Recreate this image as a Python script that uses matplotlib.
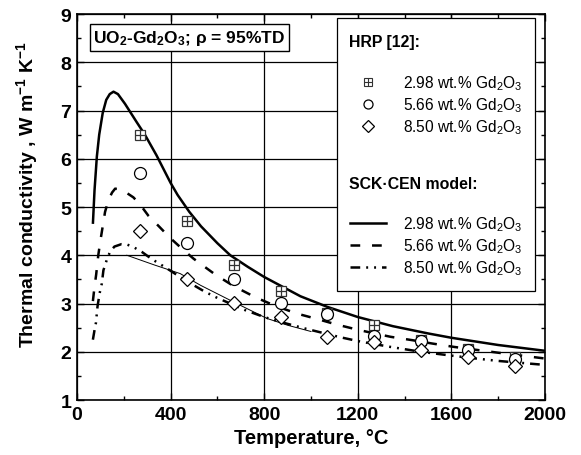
import matplotlib
matplotlib.use("Agg")
import matplotlib.pyplot as plt
from matplotlib.lines import Line2D
from matplotlib.patches import Rectangle
from matplotlib.ticker import MultipleLocator

plt.rcParams['font.family'] = ['Liberation Sans', 'DejaVu Sans']
plt.rcParams['mathtext.fontset'] = 'custom'
plt.rcParams['mathtext.rm'] = 'Liberation Sans'
plt.rcParams['mathtext.bf'] = 'Liberation Sans:bold'
plt.rcParams['mathtext.default'] = 'regular'
plt.rcParams['lines.scale_dashes'] = False

# HRP [12] measurements
temp_hrp = [270, 470, 670, 870, 1070, 1270, 1470, 1670, 1870]
k_hrp_298 = [6.5, 4.7, 3.8, 3.26, 2.8, 2.55, 2.25, 2.05, 1.9]
k_hrp_566 = [5.7, 4.26, 3.51, 3.01, 2.78, 2.32, 2.22, 2.03, 1.85]
k_hrp_850 = [4.5, 3.5, 3.02, 2.72, 2.31, 2.21, 2.03, 1.9, 1.71]

temp_m298 = [68, 75, 85, 95, 110, 125, 140, 156, 175, 205, 255, 290, 340, 400,
             430, 480, 530, 600, 655, 730, 800, 955, 1070, 1200, 1350, 1500,
             1600, 1800, 2000]
k_m298 = [4.65, 5.35, 6.05, 6.5, 6.95, 7.22, 7.34, 7.39, 7.34, 7.14, 6.76, 6.5,
          6.07, 5.5, 5.25, 4.9, 4.6, 4.25, 4.0, 3.76, 3.55, 3.15, 2.93, 2.72,
          2.53, 2.38, 2.29, 2.14, 2.02]

temp_m566 = [68, 75, 82, 91, 100, 110, 120, 135, 150, 163, 180, 210, 241, 270,
             305, 350, 398, 450, 498, 540, 591, 670, 762, 848, 941, 1033, 1105,
             1205, 1340, 1433, 1519, 1612, 1800, 2000]
k_m566 = [3.05, 3.35, 3.6, 4.0, 4.3, 4.6, 4.9, 5.15, 5.3, 5.38, 5.37, 5.3, 5.2,
          5.05, 4.82, 4.6, 4.36, 4.13, 3.93, 3.78, 3.6, 3.36, 3.13, 2.95, 2.79,
          2.67, 2.57, 2.45, 2.31, 2.24, 2.17, 2.1, 1.98, 1.86]

temp_m850 = [68, 75, 81, 88, 98, 106, 113, 127, 141, 160, 190, 215, 241, 277,
             320, 377, 412, 470, 548, 598, 720, 800, 891, 976, 1126, 1212, 1340,
             1469, 1600, 1705, 1800, 1969, 2000]
k_m850 = [2.25, 2.45, 2.6, 2.95, 3.24, 3.41, 3.69, 3.9, 4.07, 4.18, 4.23, 4.22,
          4.17, 4.07, 3.92, 3.75, 3.64, 3.46, 3.24, 3.12, 2.86, 2.72, 2.59, 2.48,
          2.3, 2.21, 2.1, 2.0, 1.92, 1.86, 1.81, 1.74, 1.73]

# thin fit line through the 8.50 wt.% data
temp_fit = [213, 330, 441, 527, 670, 812, 900, 1000]
k_fit = [4.0, 3.8, 3.62, 3.38, 3.03, 2.69, 2.55, 2.42]

labels = ["2.98 wt.% Gd$_2$O$_3$", "5.66 wt.% Gd$_2$O$_3$", "8.50 wt.% Gd$_2$O$_3$"]

DASHED = (0, (7.0, 8.5))
DASHDOT = (0, (7.0, 4.3, 1.4, 4.3, 1.4, 4.3))


def plot_conductivity():
    fig = plt.figure(figsize=(5.81, 4.56), dpi=100)
    ax = fig.add_axes([0.1325, 0.1206, 0.8055, 0.8465])

    # 1. Model curves
    ax.plot(temp_m298, k_m298, color='black', lw=1.8, solid_capstyle='butt')
    ax.plot(temp_m566, k_m566, color='black', lw=1.8, linestyle=DASHED)
    ax.plot(temp_m850, k_m850, color='black', lw=1.8, linestyle=DASHDOT)
    ax.plot(temp_fit, k_fit, color='black', lw=0.7)

    # 2. HRP points
    ax.plot(temp_hrp, k_hrp_298, 's', ms=7.2, mfc='white', mec='#333333', mew=0.9)
    ax.plot(temp_hrp, k_hrp_298, '+', ms=7.2, mec='#333333', mew=0.9)
    ax.plot(temp_hrp, k_hrp_566, 'o', ms=8.6, mfc='white', mec='black', mew=0.9)
    ax.plot(temp_hrp, k_hrp_850, 'D', ms=7.0, mfc='white', mec='black', mew=0.9)

    # 3. Axes
    ax.set_xlim(0, 2000)
    ax.set_ylim(1, 9)
    ax.xaxis.set_major_locator(MultipleLocator(400))
    ax.xaxis.set_minor_locator(MultipleLocator(200))
    ax.yaxis.set_major_locator(MultipleLocator(1))
    ax.yaxis.set_minor_locator(MultipleLocator(0.5))
    ax.tick_params(which='both', direction='in', top=True, right=True, width=1)
    ax.tick_params(which='major', length=5, labelsize=14, pad=4)
    ax.tick_params(which='minor', length=3)
    for lab in ax.get_xticklabels() + ax.get_yticklabels():
        lab.set_fontweight('bold')
    for sp in ax.spines.values():
        sp.set_linewidth(1.2)
    ax.grid(which='major', color='black', lw=0.9)

    ax.set_xlabel('Temperature, °C', fontsize=14.5, fontweight='bold', labelpad=4)
    ax.set_ylabel('Thermal conductivity , W m$^{-1}$ K$^{-1}$', fontsize=14,
                  fontweight='bold')
    ax.yaxis.set_label_coords(-0.078, 0.535)

    # 4. Info box
    ax.text(0.035, 0.939, 'UO$_2$-Gd$_2$O$_3$; ρ = 95%TD', transform=ax.transAxes,
            fontsize=12.5, fontweight='bold', va='center', ha='left', zorder=5,
            bbox=dict(boxstyle='square,pad=0.22', fc='white', ec='black', lw=1))

    # 5. Legend frame, headers and entries
    ax.add_patch(Rectangle((0.555, 0.283), 0.4237, 0.7065, transform=ax.transAxes,
                           fc='white', ec='black', lw=0.9, zorder=4))
    ax.text(0.581, 0.930, 'HRP [12]:', transform=ax.transAxes, fontsize=11.4,
            fontweight='bold', va='center', zorder=6)
    ax.text(0.581, 0.560, 'SCK·CEN model:', transform=ax.transAxes, fontsize=11.4,
            fontweight='bold', va='center', zorder=6)

    sq = (Line2D([], [], ls='none', marker='s', ms=6, mfc='white', mec='#333333', mew=0.8),
          Line2D([], [], ls='none', marker='+', ms=6, mec='#333333', mew=0.8))
    ci = Line2D([], [], ls='none', marker='o', ms=6.5, mfc='white', mec='black', mew=0.9)
    di = Line2D([], [], ls='none', marker='D', ms=6.5, mfc='white', mec='black', mew=0.9)
    leg1 = ax.legend([sq, ci, di], labels, loc='upper left',
                     bbox_to_anchor=(0.583, 0.847), frameon=False, fontsize=11.2,
                     borderpad=0, borderaxespad=0, handlelength=2.35,
                     handletextpad=1.1, labelspacing=0.22)
    leg1.set_zorder(6)
    ax.add_artist(leg1)

    so = Line2D([], [], color='black', lw=1.8)
    da = Line2D([], [], color='black', lw=1.8, linestyle=DASHED)
    dd = Line2D([], [], color='black', lw=1.8, linestyle=DASHDOT)
    leg2 = ax.legend([so, da, dd], labels, loc='upper left',
                     bbox_to_anchor=(0.583, 0.482), frameon=False, fontsize=11.2,
                     borderpad=0, borderaxespad=0, handlelength=2.35,
                     handletextpad=1.1, labelspacing=0.22)
    leg2.set_zorder(6)

    fig.savefig('out.png', dpi=100)


if __name__ == "__main__":
    plot_conductivity()
